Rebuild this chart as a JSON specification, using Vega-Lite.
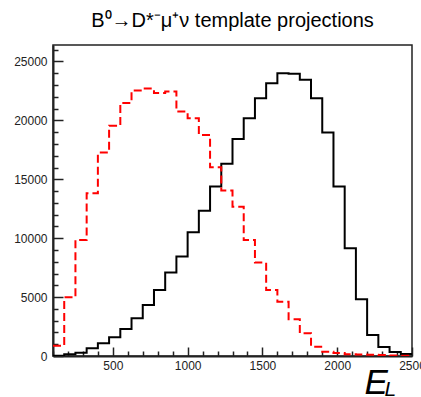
{
  "$schema": "https://vega.github.io/schema/vega-lite/v6.json",
  "width": 359,
  "height": 311,
  "autosize": "none",
  "padding": {"left": 53, "top": 45, "right": 9, "bottom": 41},
  "background": "white",
  "config": {
    "font": "Liberation Sans",
    "view": {"stroke": "#222", "strokeWidth": 1.5}
  },
  "title": {
    "text": "B⁰→D*⁻μ⁺ν template projections",
    "fontSize": 20,
    "fontWeight": "normal",
    "font": "Liberation Sans",
    "color": "#000",
    "anchor": "middle",
    "frame": "group",
    "baseline": "alphabetic",
    "offset": 16,
    "dy": 18
  },
  "data": {"values": [
    {"h": "black", "x": 100, "y": 30}, {"h": "black", "x": 175, "y": 150}, {"h": "black", "x": 250, "y": 280}, {"h": "black", "x": 325, "y": 650},
    {"h": "black", "x": 400, "y": 1080}, {"h": "black", "x": 475, "y": 1590}, {"h": "black", "x": 550, "y": 2300}, {"h": "black", "x": 625, "y": 3200},
    {"h": "black", "x": 700, "y": 4330}, {"h": "black", "x": 775, "y": 5610}, {"h": "black", "x": 850, "y": 7080}, {"h": "black", "x": 925, "y": 8440},
    {"h": "black", "x": 1000, "y": 10510}, {"h": "black", "x": 1075, "y": 12320}, {"h": "black", "x": 1150, "y": 14380}, {"h": "black", "x": 1225, "y": 16310},
    {"h": "black", "x": 1300, "y": 18430}, {"h": "black", "x": 1375, "y": 20190}, {"h": "black", "x": 1450, "y": 21890}, {"h": "black", "x": 1525, "y": 23160},
    {"h": "black", "x": 1600, "y": 24010}, {"h": "black", "x": 1675, "y": 23960}, {"h": "black", "x": 1750, "y": 23450}, {"h": "black", "x": 1825, "y": 21890},
    {"h": "black", "x": 1900, "y": 18970}, {"h": "black", "x": 1975, "y": 14380}, {"h": "black", "x": 2050, "y": 9150}, {"h": "black", "x": 2125, "y": 4815},
    {"h": "black", "x": 2200, "y": 1785}, {"h": "black", "x": 2275, "y": 770}, {"h": "black", "x": 2350, "y": 330}, {"h": "black", "x": 2425, "y": 180},
    {"h": "black", "x": 2500, "y": 180},
    {"h": "red", "x": 100, "y": 870}, {"h": "red", "x": 175, "y": 4985}, {"h": "red", "x": 250, "y": 9855}, {"h": "red", "x": 325, "y": 13820},
    {"h": "red", "x": 400, "y": 17270}, {"h": "red", "x": 475, "y": 19540}, {"h": "red", "x": 550, "y": 21470}, {"h": "red", "x": 625, "y": 22540},
    {"h": "red", "x": 700, "y": 22710}, {"h": "red", "x": 775, "y": 22320}, {"h": "red", "x": 850, "y": 22460}, {"h": "red", "x": 925, "y": 20750},
    {"h": "red", "x": 1000, "y": 20190}, {"h": "red", "x": 1075, "y": 18770}, {"h": "red", "x": 1150, "y": 16030}, {"h": "red", "x": 1225, "y": 14040},
    {"h": "red", "x": 1300, "y": 12680}, {"h": "red", "x": 1375, "y": 9855}, {"h": "red", "x": 1450, "y": 7930}, {"h": "red", "x": 1525, "y": 5610},
    {"h": "red", "x": 1600, "y": 4615}, {"h": "red", "x": 1675, "y": 3115}, {"h": "red", "x": 1750, "y": 1925}, {"h": "red", "x": 1825, "y": 790},
    {"h": "red", "x": 1900, "y": 365}, {"h": "red", "x": 1975, "y": 250}, {"h": "red", "x": 2050, "y": 150}, {"h": "red", "x": 2125, "y": 120},
    {"h": "red", "x": 2200, "y": 100}, {"h": "red", "x": 2275, "y": 80}, {"h": "red", "x": 2350, "y": 50}, {"h": "red", "x": 2425, "y": 30},
    {"h": "red", "x": 2500, "y": 30}
  ]},
  "resolve": {"axis": {"x": "independent", "y": "independent"}},
  "layer": [
    {
      "mark": {"type": "line", "interpolate": "step-after", "strokeWidth": 2, "clip": true},
      "encoding": {
        "x": {
          "field": "x", "type": "quantitative",
          "scale": {"domain": [100, 2500], "nice": false, "zero": false},
          "axis": {
            "orient": "bottom",
            "values": [100,200,300,400,500,600,700,800,900,1000,1100,1200,1300,1400,1500,1600,1700,1800,1900,2000,2100,2200,2300,2400,2500],
            "labels": false,
            "tickSize": {"condition": {"test": "datum.value % 500 === 0", "value": -9}, "value": -5},
            "tickColor": "#222", "tickWidth": 1.5,
            "domainColor": "#222", "domainWidth": 2,
            "grid": false,
            "title": "E",
            "titleFont": "Liberation Sans", "titleFontStyle": "italic", "titleFontWeight": "normal",
            "titleFontSize": 35, "titleColor": "#000",
            "titleAlign": "left", "titleBaseline": "alphabetic", "titleAnchor": "start",
            "titleX": 311, "titleY": 37
          }
        },
        "y": {
          "field": "y", "type": "quantitative",
          "scale": {"domain": [0, 26400], "nice": false},
          "axis": {
            "orient": "left",
            "values": [0,1000,2000,3000,4000,5000,6000,7000,8000,9000,10000,11000,12000,13000,14000,15000,16000,17000,18000,19000,20000,21000,22000,23000,24000,25000,26000],
            "labels": false,
            "tickSize": {"condition": {"test": "datum.value % 5000 === 0", "value": -10}, "value": -5},
            "tickColor": "#222", "tickWidth": 1.5,
            "domainColor": "#222", "domainWidth": 2,
            "grid": false, "title": null
          }
        },
        "color": {"field": "h", "type": "nominal", "scale": {"domain": ["black", "red"], "range": ["#000000", "#ff0000"]}, "legend": null},
        "strokeDash": {"field": "h", "type": "nominal", "scale": {"domain": ["black", "red"], "range": [[1, 0], [8, 4]]}, "legend": null}
      }
    },
    {
      "mark": {"type": "line", "opacity": 0, "clip": true},
      "encoding": {
        "x": {
          "field": "x", "type": "quantitative",
          "axis": {
            "orient": "bottom",
            "values": [500, 1000, 1500, 2000, 2500],
            "format": "d",
            "ticks": false, "domain": false, "grid": false,
            "labelFont": "Liberation Sans", "labelFontSize": 12, "labelColor": "#222",
            "labelPadding": 4, "labelFlush": false, "labelOverlap": false, "labelBound": false,
            "title": null
          }
        },
        "y": {
          "field": "y", "type": "quantitative",
          "axis": {
            "orient": "left",
            "values": [0, 5000, 10000, 15000, 20000, 25000],
            "format": "d",
            "ticks": false, "domain": false, "grid": false,
            "labelFont": "Liberation Sans", "labelFontSize": 12, "labelColor": "#222",
            "labelPadding": 6, "labelFlush": false, "labelOverlap": false, "labelBound": false,
            "title": null
          }
        }
      }
    },
    {
      "mark": {"type": "line", "opacity": 0, "clip": true},
      "encoding": {
        "x": {"field": "x", "type": "quantitative", "axis": null},
        "y": {
          "field": "y", "type": "quantitative",
          "axis": {
            "orient": "right", "labels": false, "ticks": false, "domain": false, "grid": false,
            "title": "L",
            "titleFont": "Liberation Sans", "titleFontStyle": "italic", "titleFontWeight": "normal",
            "titleFontSize": 21, "titleColor": "#000", "titleAngle": 0,
            "titleAlign": "left", "titleBaseline": "alphabetic", "titleAnchor": "start",
            "titleX": -28, "titleY": 350
          }
        }
      }
    }
  ]
}
